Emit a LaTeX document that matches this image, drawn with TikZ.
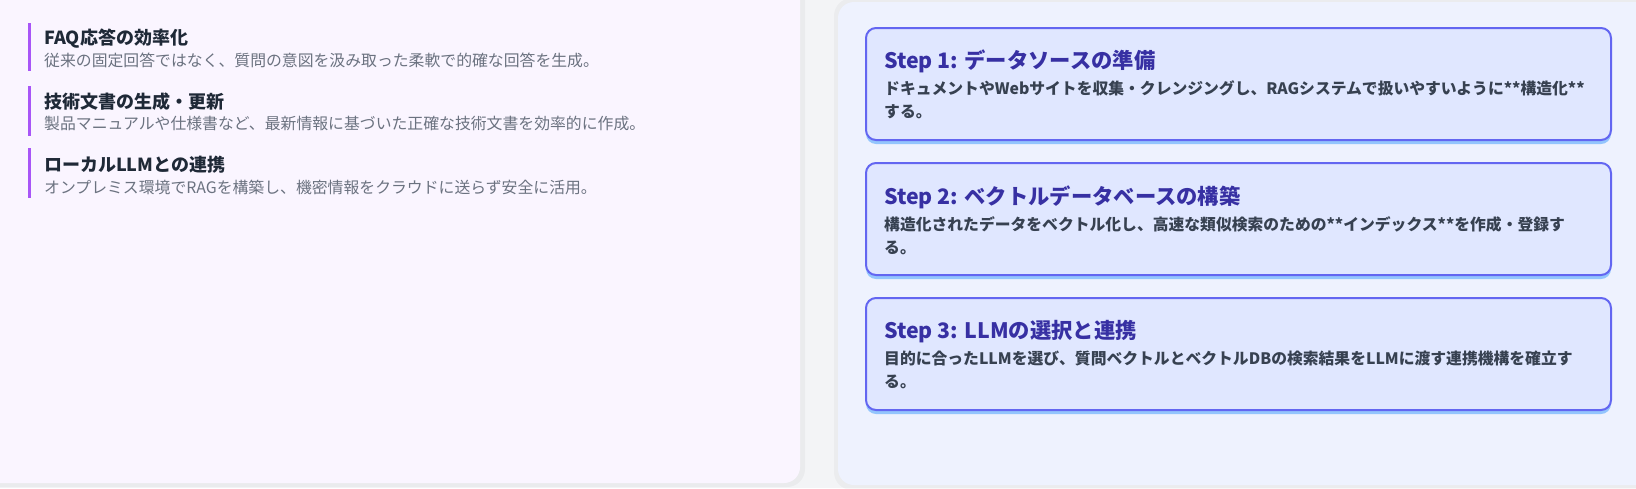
\documentclass[tikz,border=0pt]{standalone}
\usepackage{fontspec}
\setmainfont{Noto Sans CJK JP}
\usetikzlibrary{shadows}
\definecolor{bggray}{HTML}{F3F4F6}
\definecolor{leftfill}{HTML}{FAF5FF}
\definecolor{rightfill}{HTML}{EEF2FE}
\definecolor{barpurple}{HTML}{A855F7}
\definecolor{titledark}{HTML}{1F2937}
\definecolor{descgray}{HTML}{6B7280}
\definecolor{boxfill}{HTML}{E0E7FF}
\definecolor{boxborder}{HTML}{6366F1}
\definecolor{shadowblue}{HTML}{93C5FD}
\definecolor{steptitle}{HTML}{3730A3}
\definecolor{stepdesc}{HTML}{374151}
\tikzset{
  bar/.style={draw=none, fill=barpurple, minimum width=3pt, inner sep=0pt, anchor=north west},
  usetitle/.style={anchor=west, inner sep=0pt, text=titledark, font=\fontsize{18}{22}\selectfont\bfseries},
  usedesc/.style={anchor=west, inner sep=0pt, text=descgray, font=\fontsize{15.85}{20}\selectfont},
  stepbox/.style={draw=boxborder, line width=2pt, fill=boxfill, rounded corners=10pt,
    minimum width=745pt, minimum height=112pt, anchor=north west, inner sep=0pt,
    drop shadow={shadow xshift=0pt, shadow yshift=-4pt, fill=shadowblue, opacity=1}},
  steptitlestyle/.style={anchor=west, inner sep=0pt, text=steptitle, font=\fontsize{21.3}{25}\selectfont\bfseries},
  stepdescstyle/.style={anchor=north west, inner sep=0pt, align=left, text=stepdesc, font=\fontsize{15.8}{23}\selectfont\bfseries},
}
\begin{document}
\begin{tikzpicture}[x=1pt,y=-1pt]
\useasboundingbox (0,0) rectangle (1636,488);
\fill[bggray] (0,0) rectangle (1636,488);
% panels
\fill[black, opacity=0.035, rounded corners=18pt] (-20,-20) rectangle (805,487);
\fill[leftfill, rounded corners=16pt] (-20,-20) rectangle (800,483);
\fill[black, opacity=0.03, rounded corners=18pt] (834,-2) rectangle (1660,490);
\fill[rightfill, rounded corners=16pt] (838,2) rectangle (1660,485);
% left items
\node[bar, minimum height=48pt] (b1) at (27.5,23) {};
\node[usetitle] (t1) at (44,38.5) {FAQ応答の効率化};
\node[usedesc] (d1) at (44,60) {従来の固定回答ではなく、質問の意図を汲み取った柔軟で的確な回答を生成。};
\node[bar, minimum height=50pt] (b2) at (27.5,86) {};
\node[usetitle] (t2) at (44,101.5) {技術文書の生成・更新};
\node[usedesc] (d2) at (44,123.5) {製品マニュアルや仕様書など、最新情報に基づいた正確な技術文書を効率的に作成。};
\node[bar, minimum height=50pt] (b3) at (27.5,148) {};
\node[usetitle] (t3) at (44,164.5) {ローカルLLMとの連携};
\node[usedesc] (d3) at (44,187.5) {オンプレミス環境でRAGを構築し、機密情報をクラウドに送らず安全に活用。};
% steps
\node[stepbox] (s1) at (865,27) {};
\node[steptitlestyle] (s1t) at (884,61.5) {Step 1: データソースの準備};
\node[stepdescstyle] (s1d) at (884,80) {ドキュメントやWebサイトを収集・クレンジングし、RAGシステムで扱いやすいように**構造化**\\する。};
\node[stepbox] (s2) at (865,162) {};
\node[steptitlestyle] (s2t) at (884,197) {Step 2: ベクトルデータベースの構築};
\node[stepdescstyle] (s2d) at (884,216) {構造化されたデータをベクトル化し、高速な類似検索のための**インデックス**を作成・登録す\\る。};
\node[stepbox] (s3) at (865,297) {};
\node[steptitlestyle] (s3t) at (884,332) {Step 3: LLMの選択と連携};
\node[stepdescstyle] (s3d) at (884,351) {目的に合ったLLMを選び、質問ベクトルとベクトルDBの検索結果をLLMに渡す連携機構を確立す\\る。};
\end{tikzpicture}
\end{document}
